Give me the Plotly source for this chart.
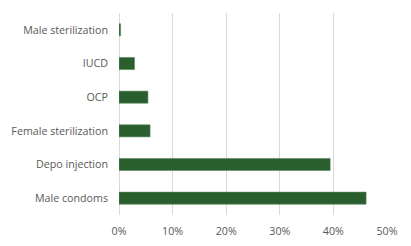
import plotly.graph_objects as go

categories = ["Male condoms", "Depo injection", "Female sterilization", "OCP", "IUCD", "Male sterilization"]
values = [0.461, 0.394, 0.058, 0.054, 0.029, 0.003]
tick_vals = [0, 0.1, 0.2, 0.3, 0.4, 0.5]
tick_text = ["0%", "10%", "20%", "30%", "40%", "50%"]

fig = go.Figure(go.Bar(
    x=values, y=categories, orientation="h",
    marker=dict(color="#2a5e2f", line=dict(color="#5a8a5e", width=0.6)),
))
fig.update_layout(
    width=411, height=246,
    margin=dict(l=119, r=24, t=13, b=31),
    paper_bgcolor="white", plot_bgcolor="white",
    bargap=0.64,
    showlegend=False,
    font=dict(family="Open Sans, Liberation Sans, sans-serif", size=10.7, color="#595959"),
)
fig.update_xaxes(range=[0, 0.5], tickvals=tick_vals, ticktext=tick_text,
                 showgrid=True, gridcolor="#d9d9d9", gridwidth=1,
                 zeroline=True, zerolinecolor="#d9d9d9", zerolinewidth=1,
                 showline=False, ticks="", ticklabelstandoff=8,
                 automargin=False, fixedrange=True)
fig.update_yaxes(showgrid=False, zeroline=False, showline=False, ticks="",
                 ticklabelstandoff=10, automargin=False, fixedrange=True)
fig.write_html("out.html")
